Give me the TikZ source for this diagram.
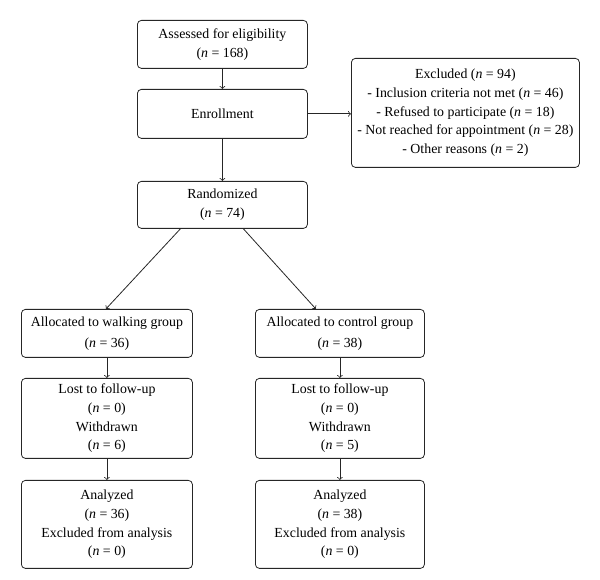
\documentclass[tikz,border=0pt]{standalone}
\usepackage{fontspec}
\setmainfont{Liberation Serif}
\usetikzlibrary{calc,arrows}

\begin{document}
\begin{tikzpicture}[x=0.75pt, y=-0.75pt, >=to,
    box/.style 2 args={rectangle, draw=black!85, line width=0.6pt,
    rounded corners=3pt, align=center, anchor=north west, inner sep=0pt,
    minimum width=#1*0.75pt, minimum height=#2*0.75pt,
    font=\fontsize{10.4}{14}\selectfont},
    link/.style={->, line width=0.6pt, draw=black!85}]
    \useasboundingbox (0,0) rectangle (600,580);
    \node[box={170}{48}] (assess) at (137,20) {Assessed for eligibility\\(\textit{n} = 168)};
    \node[box={170}{49}] (enroll) at (137,89) {Enrollment};
    \node[box={170}{47}] (random) at (137,181) {Randomized\\(\textit{n} = 74)};
    \node[box={228}{109}] (excl) at (351,58) {Excluded (\textit{n} = 94)\\- Inclusion criteria not met (\textit{n} = 46)\\- Refused to participate (\textit{n} = 18)\\- Not reached for appointment (\textit{n} = 28)\\- Other reasons (\textit{n} = 2)};
    \node[box={171}{48}] (walk) at (21,309) {Allocated to walking group\\[2pt](\textit{n} = 36)};
    \node[box={169}{48}] (ctrl) at (255,309) {Allocated to control group\\[2pt](\textit{n} = 38)};
    \node[box={171}{80}] (lostw) at (21,378) {Lost to follow-up\\(\textit{n} = 0)\\Withdrawn\\(\textit{n} = 6)};
    \node[box={169}{80}] (lostc) at (255,378) {Lost to follow-up\\(\textit{n} = 0)\\Withdrawn\\(\textit{n} = 5)};
    \node[box={171}{88}] (anaw) at (21,480) {Analyzed\\(\textit{n} = 36)\\Excluded from analysis\\(\textit{n} = 0)};
    \node[box={169}{88}] (anac) at (255,480) {Analyzed\\(\textit{n} = 38)\\Excluded from analysis\\(\textit{n} = 0)};
    \draw[link] (assess) -- (enroll);
    \draw[link] (enroll) -- (random);
    \draw[link] (enroll.east) -- (excl.west |- enroll.east);
    \draw[link] ($(random.south)+(-42,0)$) -- ($(walk.north)+(-1,0)$);
    \draw[link] ($(random.south)+(21,0)$) -- ($(ctrl.north)+(-24,0)$);
    \draw[link] (walk) -- (lostw);
    \draw[link] (lostw) -- (anaw);
    \draw[link] (ctrl) -- (lostc);
    \draw[link] (lostc) -- (anac);
\end{tikzpicture}
\end{document}
